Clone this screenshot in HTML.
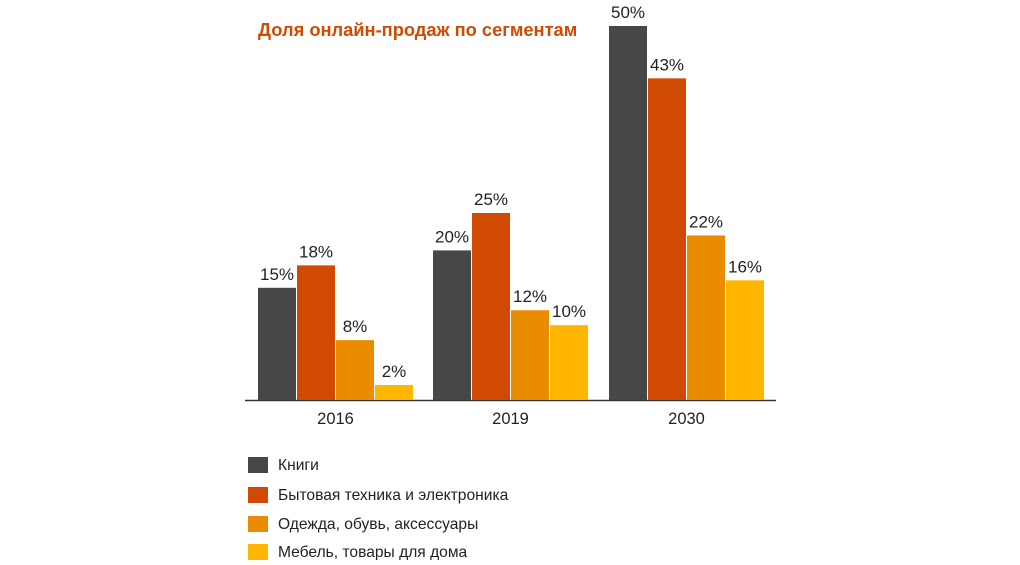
<!DOCTYPE html>
<html><head><meta charset="utf-8">
<style>
body{margin:0;background:#fff;width:1020px;height:560px;overflow:hidden;font-family:"Liberation Sans",sans-serif;}
</style></head>
<body>
<svg id="chart" width="1020" height="560" xmlns="http://www.w3.org/2000/svg" font-family="Liberation Sans, sans-serif">
<text x="258" y="36" font-size="18.3" font-weight="bold" fill="#d04a02">Доля онлайн-продаж по сегментам</text>
<line x1="245" y1="400.5" x2="776" y2="400.5" stroke="#333" stroke-width="1.5"/>
<g id="bars"></g>
<g id="legend"></g>
</svg>
<script>
const categories=["2016","2019","2030"];
const seriesNames=["Книги","Бытовая техника и электроника","Одежда, обувь, аксессуары","Мебель, товары для дома"];
const books=[15,20,50];
const appliances=[18,25,43];
const clothing=[8,12,22];
const furniture=[2,10,16];
const series=[books,appliances,clothing,furniture];
const colors=["#474747","#d04a02","#eb8c00","#ffb600"];
const NS="http://www.w3.org/2000/svg";
const baseY=400, pxPer=7.48, groupStart=[258,433,609], barW=38, step=39;
function yScale(v){return baseY-v*pxPer;}
const bars=document.getElementById('bars');
categories.forEach((c,gi)=>{
  series.forEach((s,si)=>{
    const x=groupStart[gi]+si*step, y=yScale(s[gi]);
    const r=document.createElementNS(NS,'rect');
    r.setAttribute('x',x);r.setAttribute('y',y);r.setAttribute('width',barW);r.setAttribute('height',baseY-y);r.setAttribute('fill',colors[si]);
    
    
    bars.appendChild(r);
    const t=document.createElementNS(NS,'text');
    t.setAttribute('x',x+barW/2);t.setAttribute('y',y-8);t.setAttribute('text-anchor','middle');t.setAttribute('font-size','17');t.setAttribute('fill','#222');
    t.textContent=s[gi]+'%';
    
    
    bars.appendChild(t);
  });
  const l=document.createElementNS(NS,'text');
  l.setAttribute('x',groupStart[gi]+2*step-0.5);l.setAttribute('y',424);l.setAttribute('text-anchor','middle');l.setAttribute('font-size','16.5');l.setAttribute('fill','#222');
  l.textContent=c;
  
  
  bars.appendChild(l);
});
const lg=document.getElementById('legend');
const ly=[457,487,516,544];
seriesNames.forEach((n,i)=>{
  const r=document.createElementNS(NS,'rect');
  r.setAttribute('x',248);r.setAttribute('y',ly[i]);r.setAttribute('width',20);r.setAttribute('height',16);r.setAttribute('fill',colors[i]);
  
  
  lg.appendChild(r);
  const t=document.createElementNS(NS,'text');
  t.setAttribute('x',278);t.setAttribute('y',ly[i]+13);t.setAttribute('font-size','15.6');t.setAttribute('fill','#222');
  t.textContent=n;
  
  
  lg.appendChild(t);
});
</script>
</body></html>
